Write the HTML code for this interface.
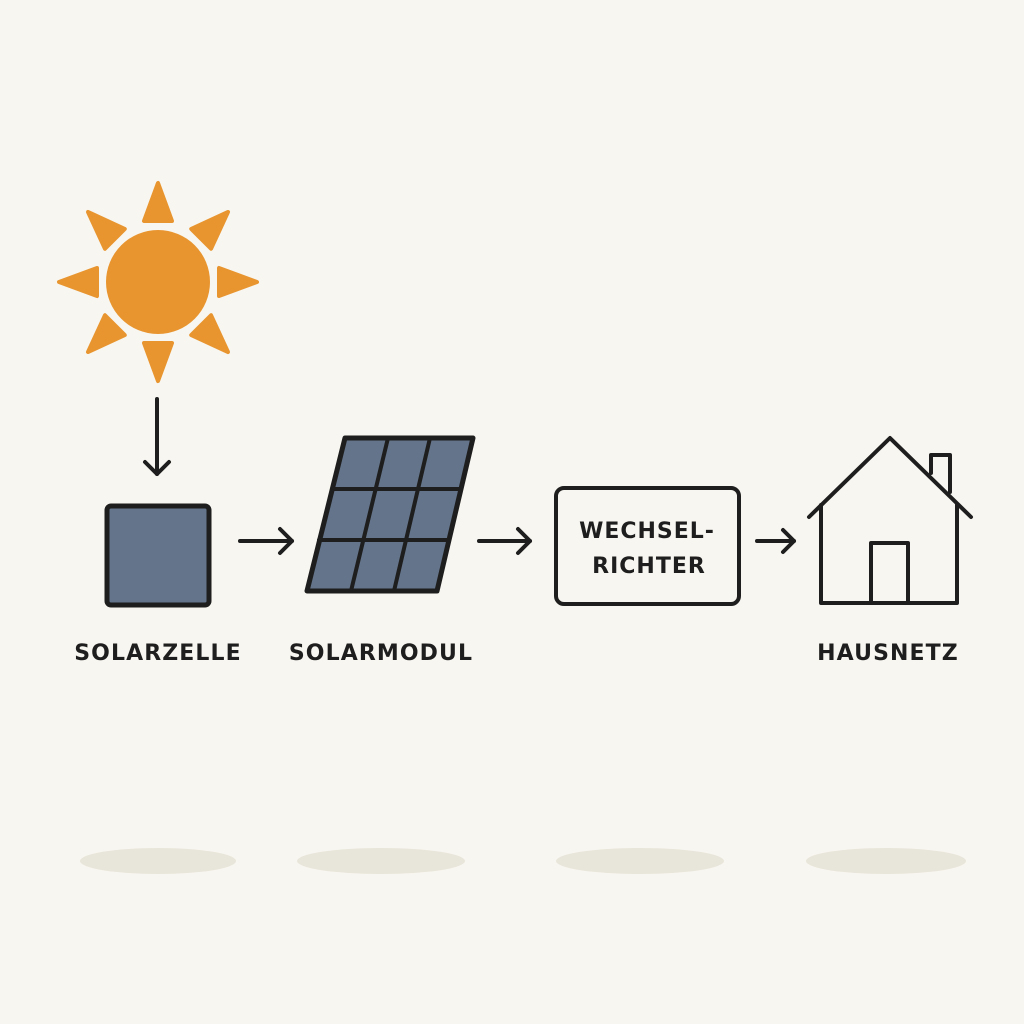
<!DOCTYPE html>
<html><head><style>
html,body{margin:0;padding:0;background:#f8f6f0;}
svg{display:block}
text{font-family:"DejaVu Sans","Liberation Sans",sans-serif;fill:#1e1e1e;}
</style></head><body>
<svg width="1024" height="1024" viewBox="0 0 1024 1024">
<rect width="1024" height="1024" fill="#f8f6f0"/>
<g fill="#e8e5da">
<ellipse cx="158" cy="861" rx="78" ry="13"/>
<ellipse cx="381" cy="861" rx="84" ry="13"/>
<ellipse cx="640" cy="861" rx="84" ry="13"/>
<ellipse cx="886" cy="861" rx="80" ry="13"/>
</g>
<g fill="#e8952f" stroke="#e8952f" stroke-width="4" stroke-linejoin="round">
<circle cx="158" cy="282" r="52" stroke="none"/>
<g id="ray"><polygon points="158,183 144,221 172,221"/></g>
<use href="#ray" transform="rotate(45 158 282)"/>
<use href="#ray" transform="rotate(90 158 282)"/>
<use href="#ray" transform="rotate(135 158 282)"/>
<use href="#ray" transform="rotate(180 158 282)"/>
<use href="#ray" transform="rotate(225 158 282)"/>
<use href="#ray" transform="rotate(270 158 282)"/>
<use href="#ray" transform="rotate(315 158 282)"/>
</g>
<g stroke="#1e1e1e" stroke-width="4" fill="none" stroke-linecap="round" stroke-linejoin="round">
<line x1="157" y1="399" x2="157" y2="474"/><polyline points="145,462 157,474 169,462"/>
<line x1="240" y1="541" x2="292" y2="541"/><polyline points="280,529 292,541 280,553"/>
<line x1="479" y1="541" x2="530" y2="541"/><polyline points="518,529 530,541 518,553"/>
<line x1="757" y1="541" x2="794" y2="541"/><polyline points="783,530 794,541 783,552"/>
<rect x="107" y="506" width="102" height="99" rx="4" fill="#64748a" stroke-width="5"/>
<polygon points="345,438 473,438 437,591 307,591" fill="#64748a" stroke-width="5"/>
<line x1="332" y1="489" x2="461" y2="489"/>
<line x1="319" y1="540" x2="449" y2="540"/>
<line x1="388" y1="438" x2="351" y2="591"/>
<line x1="430" y1="438" x2="394" y2="591"/>
<rect x="556" y="488" width="183" height="116" rx="8"/>
<polyline points="809,517 890,438 971,517"/>
<polyline points="821,505 821,603 957,603 957,505"/>
<polyline points="871,603 871,543 908,543 908,603"/>
<polyline points="931,473 931,455 950,455 950,492"/>
</g>
<g font-weight="bold" font-size="22" text-anchor="middle">
<text x="647" y="538" letter-spacing="1">WECHSEL-</text>
<text x="649" y="573" letter-spacing="1">RICHTER</text>
</g>
<g font-size="22" text-anchor="middle" letter-spacing="1.1" font-weight="bold">
<text x="158" y="660">SOLARZELLE</text>
<text x="381" y="660">SOLARMODUL</text>
<text x="888" y="660">HAUSNETZ</text>
</g>
</svg>
</body></html>
